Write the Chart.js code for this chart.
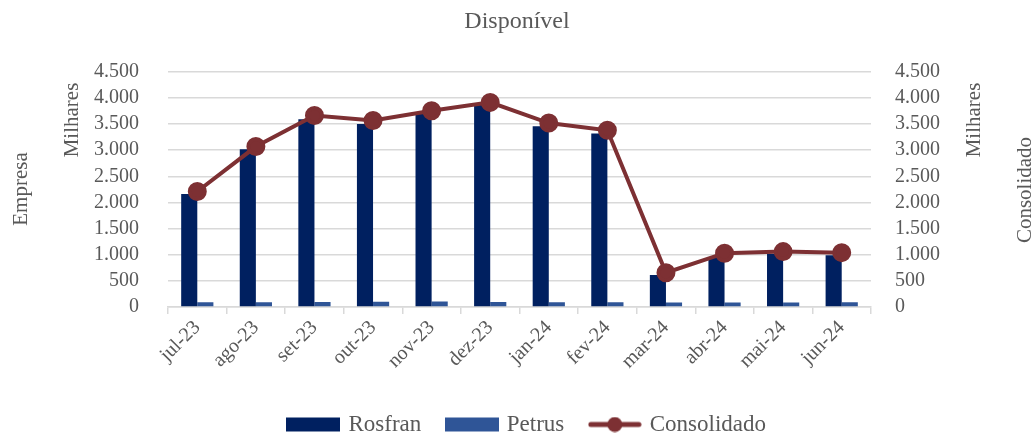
<!DOCTYPE html>
<html><head><meta charset="utf-8">
<script src="https://cdn.jsdelivr.net/npm/chart.js@4"></script>
<style>html,body{margin:0;padding:0;background:#fff;}#wrap{width:1034px;height:434px;}</style>
</head><body><div id="wrap"><canvas id="c" width="1034" height="434"></canvas></div>
<script>
const categories = ['jul-23','ago-23','set-23','out-23','nov-23','dez-23','jan-24','fev-24','mar-24','abr-24','mai-24','jun-24'];
const rosfran = [2160,3020,3590,3500,3720,3880,3460,3320,610,950,1020,990];
const petrus = [90,90,95,100,105,95,90,90,85,85,85,90];
const consolidado = [2210,3070,3665,3570,3755,3915,3520,3380,655,1030,1060,1040];
const yMin = 0, yMax = 4500, yStep = 500;
const titleText = 'Disponível';
const leftTitles = ['Empresa','Milhares'];
const rightTitles = ['Milhares','Consolidado'];

const FONT = '"Liberation Serif", "DejaVu Serif", serif';
const GREY = '#595959';
const C_ROS = '#002060', C_PET = '#2F5597', C_CON = '#7D3033';
const PAD_BOTTOM = -12;
const LEGEND_SHIFT = 11;

function fmt(v){ return String(v).replace(/\B(?=(\d{3})+(?!\d))/g,'.'); }

function legendIcon(type, color){
  const cv = document.createElement('canvas'); cv.width = 54; cv.height = 16;
  const g = cv.getContext('2d');
  if (type === 'rect') { g.fillStyle = color; g.fillRect(0,1,54,14); }
  else { g.strokeStyle = color; g.lineWidth = 5; g.lineCap='round'; g.beginPath(); g.moveTo(3,8); g.lineTo(51,8); g.stroke();
         g.fillStyle = color; g.beginPath(); g.arc(27,8,7.5,0,Math.PI*2); g.fill(); }
  return cv;
}
const icons = [legendIcon('rect',C_ROS), legendIcon('rect',C_PET), legendIcon('line',C_CON)];

const axisTitlePlugin = {
  id: 'axisTitles',
  afterLayout(chart){
    if (chart.legend) { chart.legend.left += LEGEND_SHIFT; chart.legend.right += LEGEND_SHIFT; }
  },
  afterDraw(chart){
    const ctx = chart.ctx; ctx.save();
    ctx.fillStyle = GREY; ctx.font = '21px ' + FONT; ctx.textAlign='center'; ctx.textBaseline='middle';
    const draw=(t,x,y)=>{ctx.save();ctx.translate(x,y);ctx.rotate(-Math.PI/2);ctx.fillText(t,0,0);ctx.restore();};
    draw(leftTitles[0], 21, 189);
    draw(leftTitles[1], 72, 120);
    draw(rightTitles[0], 974, 120);
    draw(rightTitles[1], 1025, 190);
    ctx.restore();
  }
};

new Chart(document.getElementById('c'), {
  type: 'bar',
  data: {
    labels: categories,
    datasets: [
      { label:'Rosfran', data: rosfran, backgroundColor: C_ROS, yAxisID:'y', order:2, barPercentage:1, categoryPercentage:0.55 },
      { label:'Petrus', data: petrus, backgroundColor: C_PET, yAxisID:'y', order:2, barPercentage:1, categoryPercentage:0.55 },
      { label:'Consolidado', type:'line', data: consolidado, borderColor: C_CON, backgroundColor: C_CON, borderWidth:4,
        pointRadius:7.5, pointHoverRadius:7.5, pointBackgroundColor:C_CON, pointBorderColor:C_CON, yAxisID:'y1', order:0, tension:0 }
    ]
  },
  options: {
    responsive:false, animation:false,
    layout:{ padding:{ left:0, right:0, top:0, bottom:PAD_BOTTOM } },
    plugins:{
      tooltip:{enabled:false},
      title:{ display:true, text:titleText, color:GREY, font:{family:FONT, size:24, weight:'normal', lineHeight:1.2}, padding:{top:7, bottom:36} },
      legend:{ position:'bottom',
        labels:{ usePointStyle:true, pointStyleWidth:47, boxHeight:16, color:GREY, font:{family:FONT, size:23}, padding:27,
          generateLabels(chart){ return chart.data.datasets.map((d,i)=>({text:d.label, pointStyle:icons[i], datasetIndex:i, fontColor:GREY, hidden:false, lineWidth:0, strokeStyle:'transparent', fillStyle:'transparent'})); }
        }
      }
    },
    scales:{
      x:{ offset:true,
        grid:{ offset:true, drawOnChartArea:false, color:'#D9D9D9', tickLength:7, lineWidth:1.5 },
        border:{ display:true, color:'#D9D9D9', width:1.5 },
        ticks:{ color:GREY, font:{family:FONT, size:20}, minRotation:45, maxRotation:45, autoSkip:false, padding:2 },
        afterFit(s){ s.height = 434 - PAD_BOTTOM - 307 - (s.chart.legend ? s.chart.legend.height : 0); }
      },
      y:{ position:'left', min:yMin, max:yMax,
        ticks:{ stepSize:yStep, autoSkip:false, color:GREY, font:{family:FONT, size:20}, padding:29, callback:v=>fmt(v) },
        grid:{ color:'#D9D9D9', lineWidth:1.5, drawTicks:false },
        border:{ display:false },
        afterFit(s){ s.width = 168; }
      },
      y1:{ position:'right', min:yMin, max:yMax,
        ticks:{ stepSize:yStep, autoSkip:false, color:GREY, font:{family:FONT, size:20}, padding:24, callback:v=>fmt(v) },
        grid:{ drawOnChartArea:false, drawTicks:false },
        border:{ display:false },
        afterFit(s){ s.width = 1034 - 871; }
      }
    }
  },
  plugins:[axisTitlePlugin]
});
</script></body></html>
